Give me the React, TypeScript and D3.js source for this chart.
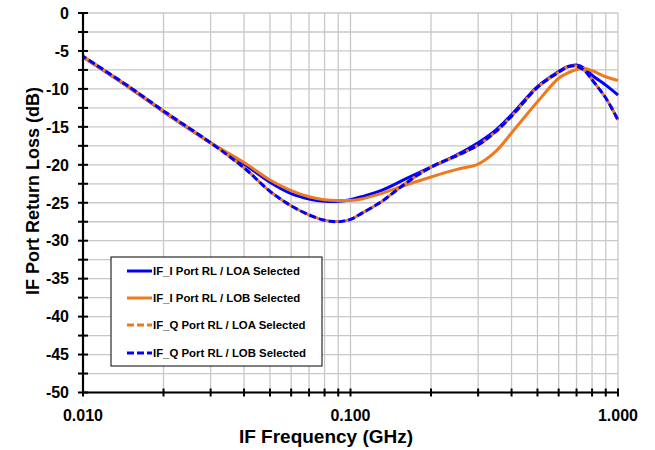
import React from "react";
import * as d3 from "d3";

const freqs = [0.01, 0.015, 0.02, 0.03, 0.04, 0.05, 0.06, 0.07, 0.08, 0.09, 0.1, 0.11, 0.13, 0.16, 0.2, 0.25, 0.3, 0.35, 0.4, 0.5, 0.6, 0.65, 0.7, 0.75, 0.8, 0.9, 1.0];
const iLoa = [-5.8, -9.9, -13.0, -17.1, -19.9, -22.3, -23.8, -24.5, -24.8, -24.8, -24.6, -24.2, -23.4, -21.9, -20.3, -18.7, -17.1, -15.4, -13.4, -9.7, -7.7, -7.05, -6.85, -7.3, -8.2, -9.5, -10.8];
const iLob = [-5.8, -9.9, -13.0, -17.1, -19.7, -22.0, -23.4, -24.2, -24.6, -24.7, -24.7, -24.5, -23.8, -22.7, -21.6, -20.6, -19.9, -18.2, -15.8, -11.7, -8.6, -7.9, -7.45, -7.3, -7.6, -8.4, -8.9];
const qLoa = [-5.7, -9.8, -12.9, -17.1, -20.4, -23.5, -25.4, -26.6, -27.3, -27.45, -27.2, -26.4, -24.9, -22.5, -20.3, -18.8, -17.4, -15.6, -13.6, -9.8, -7.8, -7.1, -7.0, -7.6, -8.8, -11.2, -14.1];
const qLob = [-5.7, -9.8, -12.9, -17.1, -20.4, -23.5, -25.4, -26.6, -27.3, -27.5, -27.2, -26.4, -24.9, -22.5, -20.3, -18.8, -17.4, -15.6, -13.6, -9.8, -7.8, -7.1, -7.0, -7.6, -8.8, -11.2, -14.1];

const seriesNames = ["IF_I Port RL / LOA Selected", "IF_I Port RL / LOB Selected", "IF_Q Port RL / LOA Selected", "IF_Q Port RL / LOB Selected"];
const seriesValues = [iLoa, iLob, qLoa, qLob];
const seriesColors = ["#0000FF", "#EE7A1E", "#EE7A1E", "#0000FF"];
const seriesDash = ["", "", "7,3", "7,3"];
const dashOffsets = [0, 0, 0, 3];

const yTicks = [0, -5, -10, -15, -20, -25, -30, -35, -40, -45, -50];
const xTickLabels = [
  { v: 0.01, label: "0.010" },
  { v: 0.1, label: "0.100" },
  { v: 1.0, label: "1.000" },
];

const W = 655, H = 450;
const L = 83, R = 618, T = 13, B = 392.5;

export default function App() {
  const x = d3.scaleLog().domain([0.01, 1]).range([L, R]);
  const y = d3.scaleLinear().domain([-50, 0]).range([B, T]);

  const minorX: number[] = [];
  [0.01, 0.1].forEach((dec) => {
    for (let k = 1; k <= 10; k++) minorX.push(+(dec * k).toFixed(4));
  });
  const xGrid = Array.from(new Set(minorX));
  const yGrid = d3.range(-50, 0.01, 2.5);

  const line = d3
    .line<[number, number]>()
    .x((d) => x(d[0]))
    .y((d) => y(d[1]))
    .curve(d3.curveCatmullRom.alpha(0.5));

  const font = "Arial, 'Liberation Sans', sans-serif";
  const legendYs = [271, 298, 325, 353];

  return (
    <svg width={W} height={H} style={{ position: "absolute", left: 0, top: 0, background: "#fff" }} fontFamily={font}>
      <rect x={0} y={0} width={W} height={H} fill="#fff" />
      {xGrid.map((v, i) => (
        <line key={"gx" + i} x1={x(v)} x2={x(v)} y1={T} y2={B} stroke="#C8C8C8" strokeWidth={1.3} />
      ))}
      {yGrid.map((v, i) => (
        <line key={"gy" + i} x1={L} x2={R} y1={y(v)} y2={y(v)} stroke="#C8C8C8" strokeWidth={1.3} />
      ))}
      {seriesValues.map((vals, si) => (
        <path
          key={"s" + si}
          d={line(freqs.map((f, i) => [f, vals[i]] as [number, number])) || ""}
          fill="none"
          stroke={seriesColors[si]}
          strokeWidth={3}
          strokeDasharray={seriesDash[si] || undefined}
          strokeDashoffset={dashOffsets[si]}
        />
      ))}
      <line x1={L} x2={L} y1={T} y2={B} stroke="#000" strokeWidth={2.2} />
      <line x1={L} x2={R} y1={B} y2={B} stroke="#000" strokeWidth={2.2} />
      {yGrid.map((v, i) => (
        <line key={"ty" + i} x1={L - 5} x2={L + 5} y1={y(v)} y2={y(v)} stroke="#000" strokeWidth={2} />
      ))}
      {xGrid.map((v, i) => (
        <line key={"tx" + i} x1={x(v)} x2={x(v)} y1={B - 4} y2={B + 4} stroke="#000" strokeWidth={2} />
      ))}
      {yTicks.map((v) => (
        <text key={"ly" + v} x={69} y={y(v)} dy="0.36em" textAnchor="end" fontSize={16} fontWeight="bold" fill="#000">
          {v}
        </text>
      ))}
      {xTickLabels.map((t) => (
        <text key={"lx" + t.label} x={x(t.v)} y={421} textAnchor="middle" fontSize={16} fontWeight="bold" fill="#000">
          {t.label}
        </text>
      ))}
      <text x={326} y={443} textAnchor="middle" fontSize={19} fontWeight="bold" fill="#000">
        IF Frequency (GHz)
      </text>
      <text transform="translate(39,191) rotate(-90)" textAnchor="middle" fontSize={18} fontWeight="bold" fill="#000">
        IF Port Return Loss (dB)
      </text>
      <rect x={111} y={257} width={211} height={109} fill="#fff" stroke="#000" strokeWidth={1} />
      {seriesNames.map((name, i) => (
        <g key={"lg" + i}>
          <line
            x1={127}
            x2={152}
            y1={legendYs[i]}
            y2={legendYs[i]}
            stroke={seriesColors[i]}
            strokeWidth={3}
            strokeDasharray={seriesDash[i] || undefined}
          />
          <text x={153} y={legendYs[i]} dy="0.36em" fontSize={11.4} fontWeight="bold" fill="#000">
            {name}
          </text>
        </g>
      ))}
    </svg>
  );
}
